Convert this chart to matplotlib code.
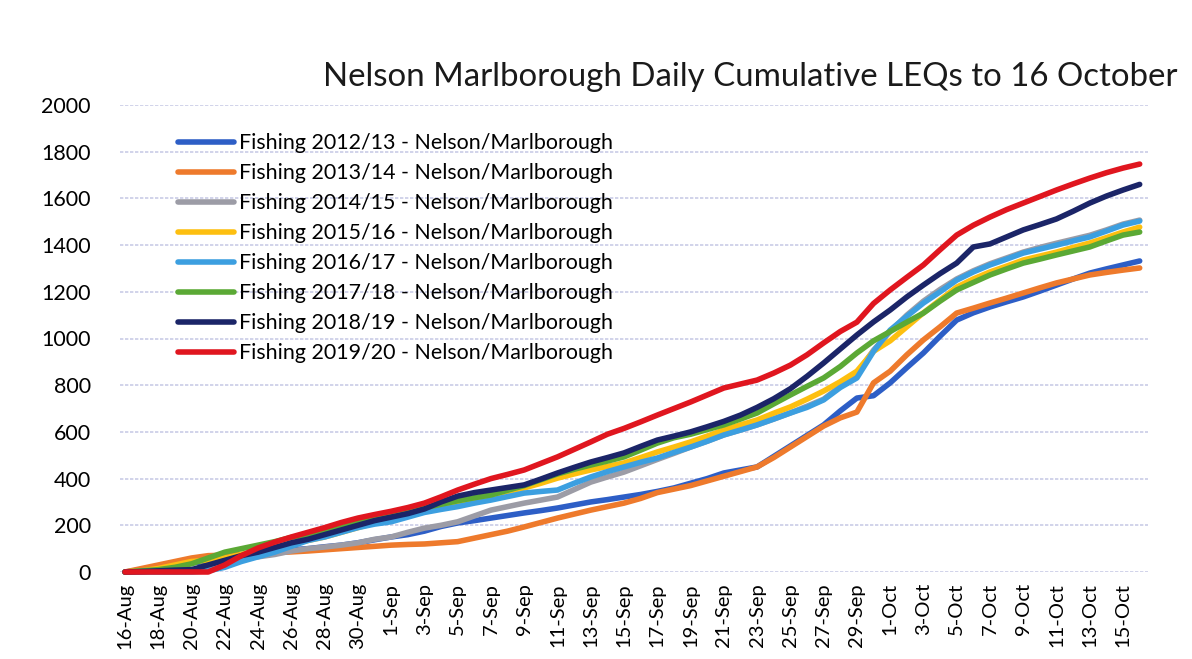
import pandas as pd
import matplotlib.pyplot as plt

# Daily cumulative LEQs, 16-Aug .. 16-Oct (62 days)
dates = pd.date_range('2019-08-16', '2019-10-16', freq='D')
tick_labels = [f"{d.day}-{d.strftime('%b')}" for d in dates[::2]]

fish_2012 = [0, 10, 25, 35, 40, 45, 55, 65, 75, 85, 95, 100, 108, 115, 125, 138,
             150, 160, 175, 195, 210, 220, 231, 242, 253, 263, 274, 287, 300, 310,
             321, 332, 345, 360, 380, 400, 424, 437, 450, 495, 540, 585, 630, 690,
             745, 755, 810, 875, 938, 1010, 1079, 1110, 1135, 1157, 1178, 1203,
             1229, 1255, 1280, 1298, 1315, 1332]
fish_2013 = [0, 15, 30, 45, 60, 70, 72, 75, 80, 83, 86, 90, 95, 100, 105, 110,
             115, 118, 120, 125, 130, 145, 160, 175, 193, 212, 231, 248, 265, 280,
             295, 315, 340, 355, 370, 390, 410, 430, 450, 490, 535, 580, 625, 660,
             685, 810, 860, 930, 994, 1050, 1109, 1130, 1152, 1173, 1195, 1217,
             1238, 1255, 1272, 1283, 1293, 1302]
fish_2014 = [0, 0, 0, 0, 5, 20, 45, 60, 65, 75, 90, 100, 107, 115, 125, 140,
             150, 170, 188, 200, 215, 240, 265, 280, 295, 308, 321, 353, 385, 407,
             428, 455, 482, 508, 535, 560, 587, 608, 630, 655, 681, 710, 740, 795,
             850, 950, 1030, 1100, 1160, 1210, 1255, 1290, 1320, 1345, 1370, 1390,
             1408, 1425, 1442, 1465, 1490, 1507]
fish_2015 = [0, 5, 15, 30, 45, 50, 60, 75, 90, 105, 120, 135, 150, 170, 190, 210,
             230, 250, 265, 285, 300, 315, 330, 345, 360, 380, 402, 420, 437, 452,
             467, 490, 514, 535, 557, 582, 608, 630, 651, 680, 707, 740, 775, 815,
             860, 945, 990, 1050, 1110, 1165, 1220, 1255, 1285, 1310, 1336, 1353,
             1370, 1390, 1409, 1432, 1456, 1477]
fish_2016 = [0, 0, 0, 0, 0, 5, 20, 45, 65, 85, 110, 135, 150, 170, 190, 205,
             215, 235, 255, 268, 280, 295, 308, 323, 338, 345, 351, 380, 407, 430,
             450, 470, 488, 512, 535, 560, 587, 608, 630, 655, 681, 705, 737, 790,
             831, 945, 1036, 1095, 1152, 1200, 1250, 1285, 1315, 1340, 1366, 1383,
             1400, 1418, 1435, 1460, 1486, 1503]
fish_2017 = [0, 5, 10, 20, 35, 60, 85, 100, 115, 130, 148, 160, 172, 190, 210, 225,
             240, 258, 275, 290, 305, 318, 330, 350, 370, 395, 420, 440, 458, 475,
             493, 522, 552, 575, 590, 610, 630, 655, 681, 720, 758, 795, 831, 880,
             938, 990, 1030, 1070, 1109, 1160, 1208, 1240, 1272, 1298, 1323, 1340,
             1358, 1375, 1392, 1418, 1443, 1456]
fish_2018 = [0, 2, 5, 8, 10, 30, 50, 70, 85, 105, 125, 140, 160, 180, 200, 220,
             235, 250, 270, 300, 325, 340, 351, 362, 373, 398, 424, 448, 471, 490,
             510, 538, 565, 582, 600, 622, 645, 672, 705, 742, 785, 838, 895, 955,
             1015, 1071, 1122, 1178, 1229, 1278, 1323, 1392, 1405, 1435, 1465, 1488,
             1512, 1545, 1580, 1610, 1636, 1660]
fish_2019 = [0, 0, 0, 0, 0, 0, 30, 70, 103, 128, 150, 170, 190, 212, 231, 246,
             260, 276, 295, 322, 351, 376, 400, 418, 437, 465, 493, 525, 557, 590,
             615, 643, 672, 700, 728, 758, 788, 805, 822, 852, 886, 930, 981, 1030,
             1070, 1150, 1208, 1262, 1315, 1380, 1443, 1485, 1520, 1552, 1580, 1608,
             1636, 1662, 1687, 1710, 1730, 1747]

series = [
    ('Fishing 2012/13 - Nelson/Marlborough', fish_2012, '#2D5EC6'),
    ('Fishing 2013/14 - Nelson/Marlborough', fish_2013, '#EE7A2C'),
    ('Fishing 2014/15 - Nelson/Marlborough', fish_2014, '#9C9CA6'),
    ('Fishing 2015/16 - Nelson/Marlborough', fish_2015, '#FDBF10'),
    ('Fishing 2016/17 - Nelson/Marlborough', fish_2016, '#3C9FE0'),
    ('Fishing 2017/18 - Nelson/Marlborough', fish_2017, '#5BA935'),
    ('Fishing 2018/19 - Nelson/Marlborough', fish_2018, '#1B2568'),
    ('Fishing 2019/20 - Nelson/Marlborough', fish_2019, '#E0161F'),
]

plt.rcParams['font.family'] = ['Lato', 'DejaVu Sans']

fig = plt.figure(figsize=(11.92, 6.59), dpi=100)
ax = fig.add_axes([120 / 1192, 1 - 572 / 659, 1028 / 1192, 467 / 659])

x = range(len(dates))
for label, vals, color in series:
    ax.plot(x, vals, color=color, linewidth=4, label=label,
            solid_capstyle='round', clip_on=False)

ax.set_ylim(0, 2000)
ax.set_yticks(range(0, 2001, 200))
ax.set_xlim(-0.3, 61.5)
ax.set_xticks(range(0, len(dates), 2))
ax.set_xticklabels(tick_labels, rotation=90, fontsize=14.5)
ax.tick_params(axis='y', labelsize=15.5, length=0, pad=21)
ax.tick_params(axis='x', length=0, pad=8)
ax.grid(axis='y', color='#C9CCE6', linewidth=1.2, linestyle=(0, (2, 1)))
ax.set_axisbelow(True)
for s in ax.spines.values():
    s.set_visible(False)

fig.text(323 / 1192, 1 - 86 / 659, 'Nelson Marlborough Daily Cumulative LEQs to 16 October',
         fontsize=23.8, color='#1a1a1a', ha='left', va='baseline')

ax.legend(loc='upper left', bbox_to_anchor=(178 / 1192, 1 - 133 / 659),
          bbox_transform=fig.transFigure, frameon=False, fontsize=15.4,
          handlelength=2.6, handletextpad=0.25, labelspacing=0.47,
          borderpad=0, borderaxespad=0)

fig.savefig('out.png', dpi=100)
